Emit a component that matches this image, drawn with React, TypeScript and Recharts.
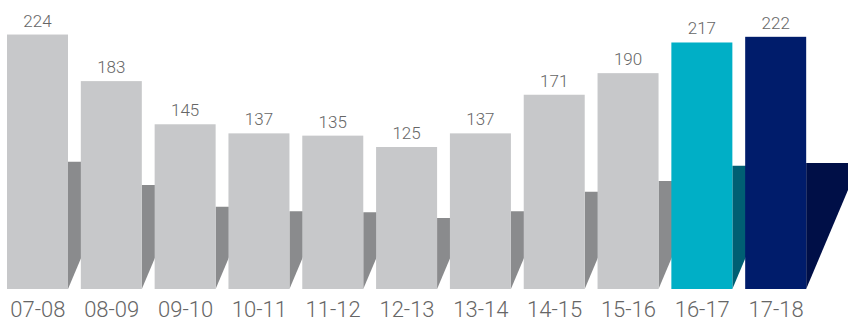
import { BarChart, Bar, XAxis, YAxis, LabelList } from 'recharts';

const categories = ['07-08', '08-09', '09-10', '10-11', '11-12', '12-13', '13-14', '14-15', '15-16', '16-17', '17-18'];
const values = [224, 183, 145, 137, 135, 125, 137, 171, 190, 217, 222];

const GRAY = '#c7c8ca';
const GRAY_SHADOW = '#8a8b8d';
const barColors = [...Array(9).fill(GRAY), '#00afc6', '#001c6b'];
const shadowColors = [...Array(9).fill(GRAY_SHADOW), '#005f73', '#000f47'];

const SLOPE = 2.37; // rise per px of the slanted shadow edge
const FONT = 'Roboto, "Liberation Sans", Arial, sans-serif';

const chartData = categories.map((name, i) => ({ name, value: values[i] }));

// bar with a flat "3D" shadow triangle on its right side
function ShadowBar(props: any) {
  const { x, y, width, height, index } = props;
  const right = x + width;
  const half = height / 2;
  const top = y + half;
  const base = y + height;
  const run = half / SLOPE;
  return (
    <g>
      <polygon
        points={`${right},${top} ${right + run},${top} ${right},${base}`}
        fill={shadowColors[index]}
      />
      <rect x={x} y={y} width={width} height={height} fill={barColors[index]} />
    </g>
  );
}

export default function App() {
  return (
    <div style={{ position: 'absolute', left: 0, top: 0 }}>
      <BarChart
        width={848}
        height={323}
        data={chartData}
        margin={{ top: 5, right: 35, left: 1, bottom: 0 }}
        barSize={61}
        style={{ fontFamily: FONT }}
      >
        <XAxis
          dataKey="name"
          axisLine={false}
          tickLine={false}
          tickSize={0}
          tickMargin={12}
          height={34}
          interval={0}
          tick={{ fontSize: 22, fill: '#666666', fontFamily: FONT, fontWeight: 300 }}
        />
        <YAxis hide domain={[0, 250]} />
        <Bar dataKey="value" shape={ShadowBar} isAnimationActive={false}>
          <LabelList
            dataKey="value"
            position="top"
            offset={8}
            fill="#666666"
            fontSize={17}
            fontWeight={300}
            fontFamily={FONT}
          />
        </Bar>
      </BarChart>
    </div>
  );
}
